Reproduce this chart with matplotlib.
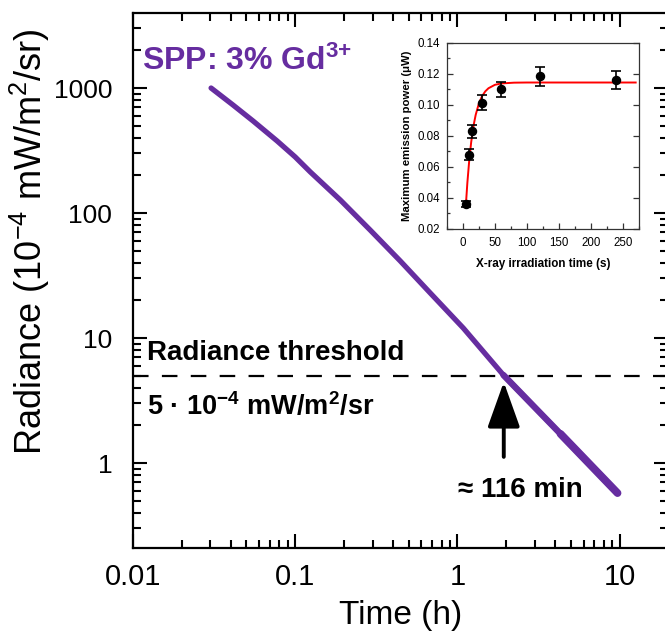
import matplotlib

matplotlib.use("Agg")
import matplotlib.pyplot as plt
from matplotlib.ticker import LogLocator, NullFormatter, MultipleLocator
from matplotlib.patches import ArrowStyle

plt.rcParams["font.family"] = ["Liberation Sans", "DejaVu Sans"]
plt.rcParams["mathtext.fontset"] = "custom"
plt.rcParams["mathtext.rm"] = "Liberation Sans"
plt.rcParams["mathtext.bf"] = "Liberation Sans:bold"

PURPLE = "#662da0"

# afterglow decay (main panel)
time_h = [0.0303, 0.0414, 0.055, 0.0774, 0.100, 0.124, 0.190, 0.290, 0.445,
          0.681, 1.089, 1.923, 4.33, 9.72]
radiance = [1000, 731, 545, 377, 281, 213, 127, 73.1, 41.3, 22.9, 12.0, 5.06,
            1.71, 0.575]
threshold = 5.0
t_cross = 116 / 60.0

# inset: max emission power vs X-ray irradiation time
irr_time = [5, 10, 15, 30, 60, 120, 240]
power = [0.036, 0.068, 0.083, 0.1015, 0.110, 0.1185, 0.116]
power_err = [0.0018, 0.0035, 0.004, 0.0048, 0.005, 0.006, 0.006]
fit_t = [5, 7, 10, 13, 17, 20, 25, 30, 35, 40, 50, 60, 80, 100, 270]
fit_p = [0.0375, 0.0498, 0.0646, 0.0761, 0.0874, 0.0936, 0.1010, 0.1057,
         0.1088, 0.1108, 0.1130, 0.1139, 0.1144, 0.1145, 0.1145]

fig = plt.figure(figsize=(6.65, 6.35), dpi=100)
ax = fig.add_axes([0.2, 0.137, 0.805, 0.8425])

ax.plot(time_h, radiance, color=PURPLE, lw=3.8, solid_capstyle="round",
        solid_joinstyle="round", zorder=3)
# noisy, thicker tail at long times
ax.plot(time_h[-3:], radiance[-3:], color=PURPLE, lw=4.6, solid_capstyle="round", zorder=3)
ax.plot(time_h[-2:], radiance[-2:], color=PURPLE, lw=5.6, solid_capstyle="round", zorder=3)

ax.axhline(threshold, color="black", lw=1.6, linestyle=(0, (7.0, 6.0)), zorder=2)

ax.annotate("", xy=(t_cross, 4.45), xytext=(t_cross, 1.12),
            arrowprops=dict(arrowstyle=ArrowStyle("-|>", head_length=1.4, head_width=0.5),
                            mutation_scale=20, color="black", lw=2.8,
                            shrinkA=0, shrinkB=0))

ax.text(0.0114, 1393, r"SPP: 3% Gd$\mathbf{^{3{+}}}$", color=PURPLE, fontsize=23,
        fontweight="bold", va="baseline")
ax.text(0.0122, 6.67, "Radiance threshold", fontsize=20, fontweight="bold", va="baseline")
ax.text(0.0122, 2.42, r"5 · 10$\mathbf{^{-4}}$ mW/m$\mathbf{^{2}}$/sr", fontsize=19.5,
        fontweight="bold", va="baseline")
ax.text(1.01, 0.535, "≈ 116 min", fontsize=20, fontweight="bold", va="baseline")

ax.set_xscale("log")
ax.set_yscale("log")
ax.set_xlim(0.01, 20)
ax.set_ylim(0.209, 3981)
ax.set_xticks([0.01, 0.1, 1, 10])
ax.set_xticklabels(["0.01", "0.1", "1", "10"])
ax.set_yticks([1, 10, 100, 1000])
ax.set_yticklabels(["1", "10", "100", "1000"])
ax.xaxis.set_minor_locator(LogLocator(base=10, subs=range(2, 10)))
ax.yaxis.set_minor_locator(LogLocator(base=10, subs=range(2, 10)))
ax.xaxis.set_minor_formatter(NullFormatter())
ax.yaxis.set_minor_formatter(NullFormatter())
ax.tick_params(which="both", direction="in", top=True, right=True, width=1.5)
ax.tick_params(which="major", length=10)
ax.tick_params(which="minor", length=5.5)
ax.tick_params(axis="x", pad=11, labelsize=21)
ax.tick_params(axis="y", pad=15, labelsize=19)
for sp in ax.spines.values():
    sp.set_linewidth(1.6)

ax.set_xlabel("Time (h)", fontsize=24, labelpad=6)
fig.text(0.045, 0.62, r"Radiance (10$^{-4}$ mW/m$^{2}$/sr)", rotation=90,
         fontsize=26, ha="center", va="center")

# ── inset ──
ins = fig.add_axes([0.672, 0.6394, 0.2887, 0.2929])
ins.plot(fit_t, fit_p, color="red", lw=1.4, zorder=2)
ins.errorbar(irr_time, power, yerr=power_err, fmt="o", color="black", ms=5.8,
             capsize=3.5, elinewidth=1.2, capthick=1.2, zorder=3)
ins.set_xlim(-25, 275)
ins.set_ylim(0.02, 0.14)
ins.xaxis.set_major_locator(MultipleLocator(50))
ins.xaxis.set_minor_locator(MultipleLocator(25))
ins.yaxis.set_minor_locator(MultipleLocator(0.01))
ins.set_yticks([0.02, 0.04, 0.06, 0.08, 0.10, 0.12, 0.14])
ins.set_yticklabels(["0.02", "0.04", "0.06", "0.08", "0.10", "0.12", "0.14"])
ins.tick_params(which="both", direction="in", labelsize=8.3, width=0.9, color="#333333")
ins.tick_params(which="major", length=4.5, right=True)
ins.tick_params(which="minor", length=2.5)
ins.tick_params(axis="x", pad=6)
ins.tick_params(axis="y", pad=5)
ins.set_xlabel("X-ray irradiation time (s)", fontsize=8.4, fontweight="bold", labelpad=6)
ins.set_ylabel("Maximum emission power (μW)", fontsize=8.2, fontweight="bold", labelpad=4)
for sp in ins.spines.values():
    sp.set_linewidth(0.9)
    sp.set_color("#333333")

fig.savefig("out.png", dpi=100)
print("saved out.png")
